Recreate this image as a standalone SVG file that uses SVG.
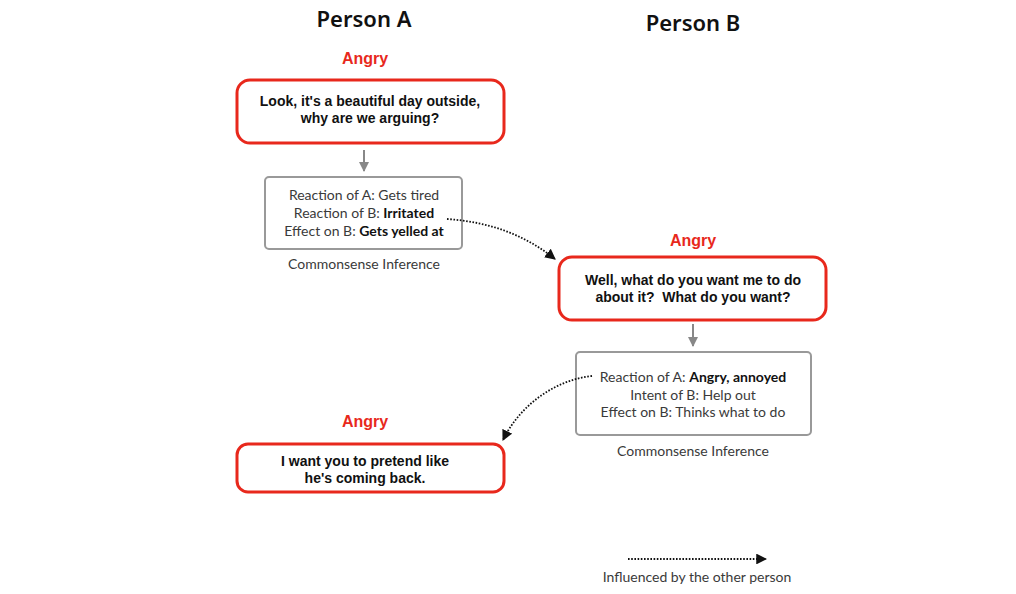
<svg xmlns="http://www.w3.org/2000/svg" width="1016" height="594" viewBox="0 0 1016 594">
<style>
.title{font-family:"Noto Sans","Liberation Sans",sans-serif;font-weight:600;font-size:22px;fill:#111;text-anchor:middle}
.emo{font-family:"Liberation Sans",Arial,sans-serif;font-weight:bold;font-size:16px;fill:#e8281c;text-anchor:middle}
.utt{fill:#fff;stroke:#e8281c;stroke-width:3}
.ut{font-family:"Liberation Sans",Arial,sans-serif;font-weight:bold;font-size:14px;fill:#111;text-anchor:middle}
.inf{fill:#fff;stroke:#999;stroke-width:2}
.it{font-family:Lato,"Open Sans",sans-serif;font-size:14px;fill:#3a3a3a;text-anchor:middle}
.it tspan.b{font-weight:bold;fill:#111}
.gray{stroke:#888;stroke-width:2;fill:none}
.dot{stroke:#111;stroke-width:1.8;stroke-dasharray:1.6 1.6;fill:none}
</style>
<defs>
<marker id="ga" viewBox="0 0 10 10" refX="9" refY="5" markerWidth="5" markerHeight="5" orient="auto"><path d="M0,0 L10,5 L0,10 z" fill="#888"/></marker>
<marker id="ba" viewBox="0 0 10 10" refX="9" refY="5" markerWidth="6" markerHeight="6" orient="auto"><path d="M0,0 L10,5 L0,10 z" fill="#111"/></marker>
</defs>
<rect width="1016" height="594" fill="#fff"/>
<text class="title" x="364" y="27">Person A</text>
<text class="title" x="693" y="31">Person B</text>

<g id="u1">
<text class="emo" x="365" y="64">Angry</text>
<rect class="utt" x="237" y="80" width="267" height="63" rx="13"/>
<text class="ut" x="370" y="106">Look, it's a beautiful day outside,</text>
<text class="ut" x="370" y="123">why are we arguing?</text>
</g>

<g id="i1">
<rect class="inf" x="265" y="177" width="197" height="72" rx="4"/>
<text class="it" x="364" y="200">Reaction of A: Gets tired</text>
<text class="it" x="364" y="218">Reaction of B: <tspan class="b">Irritated</tspan></text>
<text class="it" x="364" y="236">Effect on B: <tspan class="b">Gets yelled at</tspan></text>
<text class="it" x="364" y="269">Commonsense Inference</text>
</g>

<g id="u2">
<text class="emo" x="693" y="246">Angry</text>
<rect class="utt" x="559" y="257" width="267" height="63" rx="13"/>
<text class="ut" x="693" y="285">Well, what do you want me to do</text>
<text class="ut" x="693" y="302">about it?&#160; What do you want?</text>
</g>

<g id="i2">
<rect class="inf" x="576" y="352" width="235" height="83" rx="4"/>
<text class="it" x="693" y="382">Reaction of A: <tspan class="b">Angry, annoyed</tspan></text>
<text class="it" x="693" y="400">Intent of B: Help out</text>
<text class="it" x="693" y="417">Effect on B: Thinks what to do</text>
<text class="it" x="693" y="456">Commonsense Inference</text>
</g>

<g id="u3">
<text class="emo" x="365" y="427">Angry</text>
<rect class="utt" x="237" y="444" width="267" height="48" rx="11"/>
<text class="ut" x="365" y="466">I want you to pretend like</text>
<text class="ut" x="365" y="483">he's coming back.</text>
</g>

<g id="connectors">
<line class="gray" x1="364" y1="150" x2="364" y2="171" marker-end="url(#ga)"/>
<line class="gray" x1="693" y1="324" x2="693" y2="346" marker-end="url(#ga)"/>
<path class="dot" d="M447,219 C490,222 525,235 555,259" marker-end="url(#ba)"/>
<path class="dot" d="M592,376 C555,380 520,405 503,440" marker-end="url(#ba)"/>
<line class="dot" x1="628" y1="559" x2="766" y2="559" marker-end="url(#ba)"/>
</g>
<text class="it" x="697" y="582">Influenced by the other person</text>
</svg>
